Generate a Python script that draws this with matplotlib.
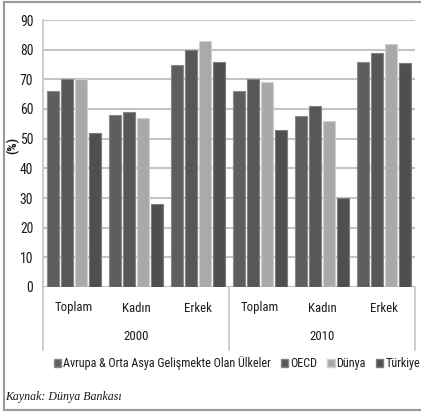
import matplotlib
matplotlib.use("Agg")
import matplotlib.pyplot as plt
from matplotlib import font_manager
from matplotlib.lines import Line2D
from matplotlib.patches import Patch
import numpy as np

years = ["2000", "2010"]
categories = ["Toplam", "Kadın", "Erkek"]
series_names = ["Avrupa & Orta Asya Gelişmekte Olan Ülkeler", "OECD", "Dünya", "Türkiye"]
avrupa = [66, 58, 75, 66, 57.5, 76]
oecd = [70, 59, 80, 70, 61, 79]
dunya = [70, 57, 83, 69, 56, 82]
turkiye = [52, 28, 76, 53, 30, 75.5]
yticks = [0, 10, 20, 30, 40, 50, 60, 70, 80, 90]

# pick a condensed sans font if one is installed
cond = None
cond_bold = None
for f in font_manager.fontManager.ttflist:
    st = str(f.stretch).lower()
    nm = f.name.lower()
    if ("condensed" in st or "narrow" in nm or "condensed" in nm) and f.style == "normal" \
            and "mono" not in nm and "serif" not in nm.replace("sans serif", ""):
        if cond is None or f.weight in (400, "normal", "regular"):
            cond = f
        if f.weight in (700, "bold"):
            cond_bold = f
if cond is not None:
    FP = dict(fname=cond.fname)
    scale = 1.0
else:
    FP = dict(family="Liberation Sans")
    scale = 0.85
plt.rcParams['font.family'] = ['Liberation Sans', 'DejaVu Sans']

def fp(size, weight="normal"):
    if weight == "bold" and cond_bold is not None:
        return font_manager.FontProperties(size=size * scale, fname=cond_bold.fname)
    if weight == "bold" and cond is not None:
        return font_manager.FontProperties(size=size, family="Liberation Sans", weight="bold")
    return font_manager.FontProperties(size=size * scale, weight=weight, **FP)

TXT = "#1a1a1a"
colors = ["#5e5e5e", "#575757", "#a9a9a9", "#4f4f4f"]
edges = ["#8a8a8a", "#858585", "#cfcfcf", "#7d7d7d"]
series = [avrupa, oecd, dunya, turkiye]

fig = plt.figure(figsize=(4.21, 4.12), dpi=100)
ax = fig.add_axes([43/421, 125/412, 372/421, 267/412])

n = len(avrupa)
x = np.arange(n)
bw = 0.19
step = 0.225
for i, (vals, c, e) in enumerate(zip(series, colors, edges)):
    ax.bar(x + (i - 1.5) * step, vals, width=bw, color=c, edgecolor=e,
           linewidth=0.8, zorder=3)

ax.set_xlim(-0.5, n - 0.5)
ax.set_ylim(0, 90)
ax.set_yticks(yticks)
ax.set_yticklabels([str(t) for t in yticks], color=TXT)
for lab in ax.get_yticklabels():
    lab.set_fontproperties(fp(9.8))
ax.yaxis.grid(True, color="#c4c4c4", linewidth=1.5, zorder=0)
ax.tick_params(axis='y', length=0, pad=7)
ax.tick_params(axis='x', length=0)
ax.set_xticks([])
for s in ["top", "right", "bottom"]:
    ax.spines[s].set_visible(False)
ax.spines["left"].set_color("#c4c4c4")
ax.spines["left"].set_linewidth(1.2)

fig.text(13/421, 1 - 145/412, "(%)", rotation=90, ha="center", va="center",
         color=TXT, fontproperties=fp(9.5, "bold"))

trans = ax.get_xaxis_transform()
for j in range(n):
    ax.text(j, -21/267, categories[j % 3], transform=trans, ha="center", va="center",
            color=TXT, fontproperties=fp(9.2))
for k, yr in enumerate(years):
    ax.text(1 + 3 * k, -50/267, yr, transform=trans, ha="center", va="center",
            color=TXT, fontproperties=fp(9.2))
for xd in [-0.5, 2.5, 5.5]:
    ax.add_line(Line2D([xd, xd], [0, -63/267], transform=trans, color="#c4c4c4",
                       linewidth=1.2, clip_on=False))

handles = [Patch(facecolor=c, edgecolor=e) for c, e in zip(colors, edges)]
fig.legend(handles, series_names, loc="center", bbox_to_anchor=(237/421, 1 - 363/412),
           ncol=4, frameon=False, prop=fp(8.7),
           handlelength=0.6, handleheight=0.6,
           handletextpad=0.15, columnspacing=0.85, labelcolor=TXT)

fig.text(5/421, 1 - 397/412, "Kaynak: Dünya Bankası", fontsize=8.6, style="italic",
         family=["Liberation Serif", "DejaVu Serif"], ha="left", va="center", color=TXT)

for xs, ys in [([4/421, 1], [1 - 1.5/412, 1 - 1.5/412]),
               ([4/421, 4/421], [1 - 1.5/412, 1 - 410/412]),
               ([4/421, 1], [1 - 410/412, 1 - 410/412])]:
    fig.add_artist(Line2D(xs, ys, transform=fig.transFigure, color="#9a9a9a", linewidth=1.5))

fig.savefig("out.png", dpi=100, facecolor="white")
